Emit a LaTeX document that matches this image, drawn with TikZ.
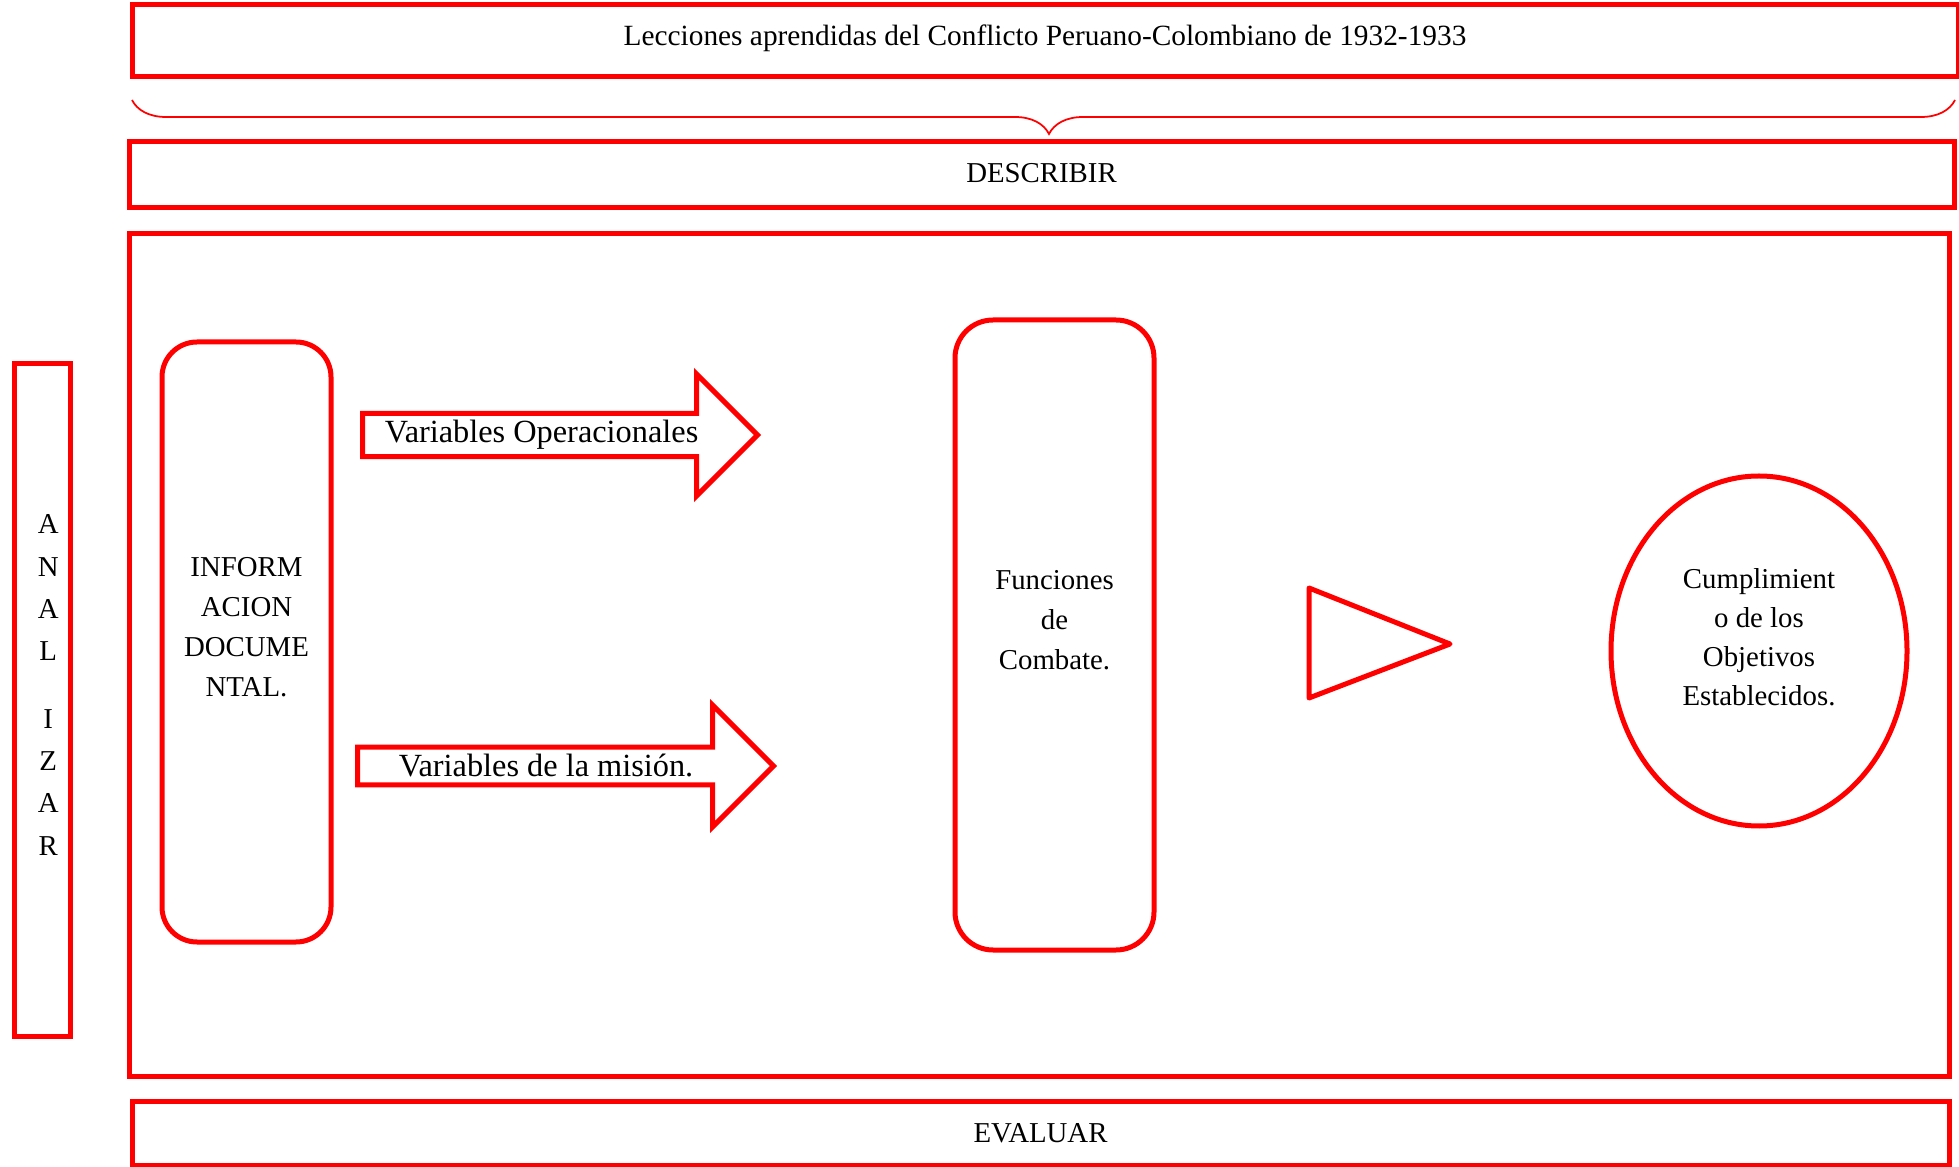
\documentclass[tikz,border=0pt]{standalone}
\usepackage{fontspec}
\setmainfont{Liberation Serif}
\usetikzlibrary{shapes}
\usetikzlibrary{decorations.pathreplacing}

\begin{document}
\begin{tikzpicture}[line width=1mm,
        box_style/.style={rectangle,draw=red,inner sep=0pt,align=center,font=\fontsize{16.4}{22.7}\selectfont},
        round_style/.style={box_style,rounded corners=0.7cm,text depth=0.6cm},
        arrow_style/.style={single arrow,draw=red,inner sep=0pt,single arrow head extend=0.62cm,single arrow tip angle=90,font=\fontsize{18.4}{22}\selectfont},
        ellipse_style/.style={ellipse,draw=red,inner sep=0pt,align=center,text depth=0.56cm,font=\fontsize{16.4}{22.1}\selectfont},
        brace_style/.style={draw=red,line width=0.35mm,decorate,decoration={brace,mirror,amplitude=0.68cm,aspect=0.503}}]

        \useasboundingbox (0,0) rectangle (39.18,23.32);

        \node [box_style,minimum width=36.52cm,minimum height=1.44cm,text depth=0.24cm,font=\fontsize{16.7}{22.7}\selectfont](lecciones) at (20.90,22.50) {Lecciones aprendidas del Conflicto Peruano-Colombiano de 1932-1933};

        \coordinate (b1) at (2.64,21.32);
        \coordinate (b2) at (39.10,21.32);
        \draw [brace_style] (b1) -- (b2);

        \node [box_style,minimum width=36.5cm,minimum height=1.32cm,text depth=0.1cm](describir) at (20.83,19.82) {DESCRIBIR};

        \node [box_style,minimum width=36.4cm,minimum height=16.84cm](marco) at (20.78,10.22) {};

        \node [box_style,minimum width=36.34cm,minimum height=1.28cm](evaluar) at (20.81,0.66) {EVALUAR};

        \node [box_style,minimum width=1.12cm,minimum height=13.44cm,text depth=0.6cm,font=\fontsize{16.4}{24.1}\selectfont](analizar) at (0.84,9.32) {\hspace*{0.25cm}A\\\hspace*{0.25cm}N\\\hspace*{0.25cm}A\\\hspace*{0.25cm}L\\[0.5cm]\hspace*{0.25cm}I\\\hspace*{0.25cm}Z\\\hspace*{0.25cm}A\\\hspace*{0.25cm}R};

        \node [round_style,minimum width=3.38cm,minimum height=12cm](info) at (4.93,10.48) {INFORM\\ACION\\DOCUME\\NTAL.};

        \node [arrow_style,minimum height=7.9cm,minimum width=2.44cm,anchor=tail](var_op) at (7.20,14.62) {Variables Operacionales\hspace*{0.3cm}};

        \node [arrow_style,minimum height=8.32cm,minimum width=2.44cm,anchor=tail](var_mis) at (7.10,8.00) {Variables de la misión.\hspace*{0.4cm}};

        \node [round_style,rounded corners=0.76cm,minimum width=3.98cm,minimum height=12.6cm](funciones) at (21.09,10.62) {Funciones\\de\\Combate.};

        \draw [draw=red,line join=round] (26.18,11.56) -- (26.18,9.36) -- (29.00,10.44) -- cycle;

        \node [ellipse_style,minimum width=5.92cm,minimum height=7cm](cumpl) at (35.18,10.30) {Cumplimient\\o de los\\Objetivos\\Establecidos.};

        \end{tikzpicture}
\end{document}
